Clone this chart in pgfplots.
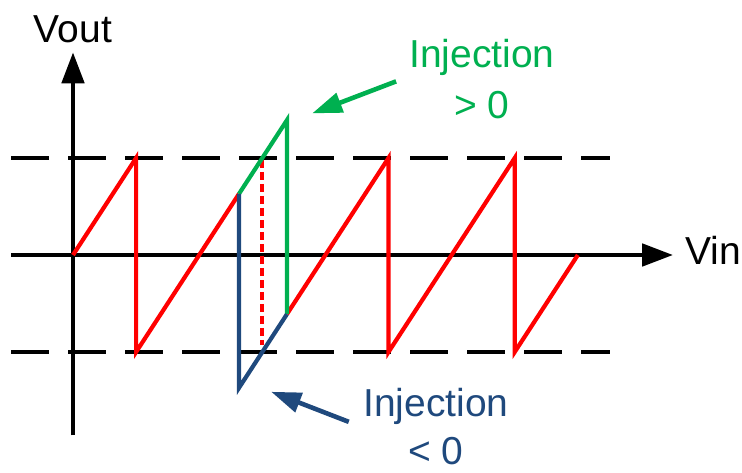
\documentclass[border=0pt]{standalone}
\usepackage{pgfplots}
\pgfplotsset{compat=1.18}
\usepackage{fontspec}
\setmainfont{Liberation Sans}
\usetikzlibrary{arrows.meta}
\definecolor{myred}{HTML}{FF0000}
\definecolor{mygreen}{HTML}{00B050}
\definecolor{myblue}{HTML}{1F497D}
\begin{document}
\begin{tikzpicture}
\begin{axis}[
  x=31.55pt, y=48.5pt,
  xmin=-1.157, xmax=10.602, ymin=-2.24, ymax=2.629,
  hide axis, clip=false,
]
\path (rel axis cs:0,0) rectangle (rel axis cs:1,1);
% threshold lines
\addplot[black, line width=2.3pt, dash pattern=on 19pt off 9.5pt] coordinates {(-0.98,1) (8.51,1)};
\addplot[black, line width=2.3pt, dash pattern=on 19pt off 9.5pt] coordinates {(-0.98,-1) (8.51,-1)};
% axes
\addplot[black, line width=2.4pt, -{Triangle[length=15.5pt,width=11pt]}] coordinates {(-0.98,0) (9.51,0)};
\addplot[black, line width=2.4pt, -{Triangle[length=15.5pt,width=11pt]}] coordinates {(0,-1.86) (0,2.09)};
% ideal reset (dotted)
\addplot[myred, line width=2.1pt, dash pattern=on 4pt off 2pt] coordinates {(3.0,0.98) (3.0,-0.93)};
% sawtooth
\addplot[myred, line width=2.1pt] coordinates {(0,0) (1,1) (1,-1) (2.63,0.63)};
\addplot[myred, line width=2.1pt] coordinates {(3.39,-0.61) (5,1) (5,-1) (7,1) (7,-1) (8,0)};
% injection > 0
\addplot[mygreen, line width=2.1pt] coordinates {(2.63,0.63) (3.39,1.39) (3.39,-0.61)};
% injection < 0
\addplot[myblue, line width=2.1pt] coordinates {(2.63,0.63) (2.63,-1.37) (3.39,-0.61)};
% annotation arrows
\addplot[mygreen, line width=2.3pt, -{Triangle[length=15pt,width=10pt]}] coordinates {(5.12,1.79) (3.79,1.46)};
\addplot[myblue, line width=2.3pt, -{Triangle[length=15pt,width=10pt]}] coordinates {(4.37,-1.72) (3.14,-1.41)};
% labels
\node[anchor=base, inner sep=0pt, font=\fontsize{19.5}{25}\selectfont] at (axis cs:0,2.186) {Vout};
\node[anchor=base west, inner sep=0pt, font=\fontsize{19.5}{25}\selectfont] at (axis cs:9.70,-0.093) {Vin};
\node[anchor=base, inner sep=0pt, text=mygreen, font=\fontsize{19.5}{25}\selectfont] at (axis cs:6.48,1.928) {Injection};
\node[anchor=base, inner sep=0pt, text=mygreen, font=\fontsize{19.5}{25}\selectfont] at (axis cs:6.48,1.412) {> 0};
\node[anchor=base, inner sep=0pt, text=myblue, font=\fontsize{19.5}{25}\selectfont] at (axis cs:5.75,-1.67) {Injection};
\node[anchor=base, inner sep=0pt, text=myblue, font=\fontsize{19.5}{25}\selectfont] at (axis cs:5.75,-2.16) {< 0};
\end{axis}
\end{tikzpicture}
\end{document}
